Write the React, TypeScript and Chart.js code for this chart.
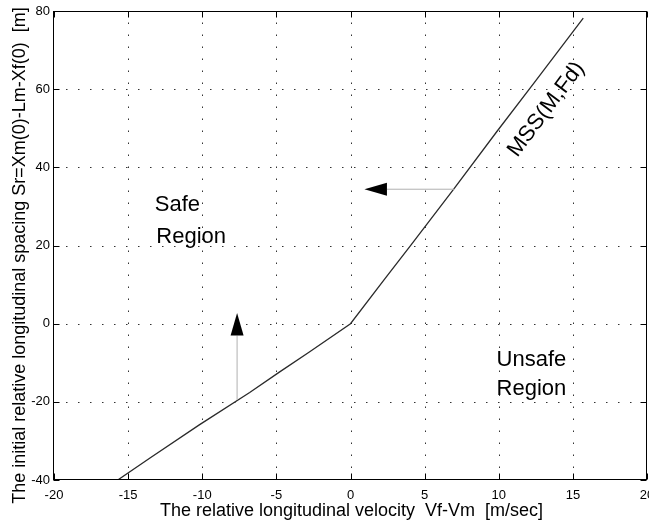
import { useEffect, useRef } from "react";
import { Chart, registerables } from "chart.js";

Chart.register(...registerables);

// Relative longitudinal velocity Vf-Vm [m/sec]
const velocity = [-15.7, -13.5, -10.2, -6.8, -4.8, -2.8, 0, 2.3, 4.1, 7.0, 9.9, 12.5, 15.7];
// Minimum safe spacing MSS(M,Fd) [m]
const spacing = [-40, -34.3, -25.9, -17.6, -12.4, -7.3, 0, 11.4, 20.2, 34.6, 49.3, 62.2, 78.2];

const xTicks = [-20, -15, -10, -5, 0, 5, 10, 15, 20];
const yTicks = [-40, -20, 0, 20, 40, 60, 80];
const xTickLabels = ["-20", "-15", "-10", "-5", "0", "5", "10", "15", "20"];
const yTickLabels = ["-40", "-20", "0", "20", "40", "60", "80"];

// Arrows: [start, tip]
const leftArrowX = [7.0, 0.94];
const leftArrowY = [34.4, 34.4];
const upArrowX = [-7.65, -7.65];
const upArrowY = [-19.5, 2.7];

const xTitle = "The relative longitudinal velocity  Vf-Vm  [m/sec]";
const yTitle = "The initial relative longitudinal spacing Sr=Xm(0)-Lm-Xf(0)  [m]";

const FONT = '"Liberation Sans", Arial, Helvetica, sans-serif';

function drawArrow(ctx: CanvasRenderingContext2D, x0: number, y0: number, x1: number, y1: number) {
  const ang = Math.atan2(y1 - y0, x1 - x0);
  const len = 22.5;
  const half = 6.5;
  const bx = x1 - len * Math.cos(ang);
  const by = y1 - len * Math.sin(ang);
  ctx.strokeStyle = "#b0b0b0";
  ctx.lineWidth = 1;
  ctx.setLineDash([]);
  ctx.beginPath();
  ctx.moveTo(x0, y0);
  ctx.lineTo(bx, by);
  ctx.stroke();
  ctx.fillStyle = "#000";
  ctx.beginPath();
  ctx.moveTo(x1, y1);
  ctx.lineTo(bx + half * Math.sin(ang), by - half * Math.cos(ang));
  ctx.lineTo(bx - half * Math.sin(ang), by + half * Math.cos(ang));
  ctx.closePath();
  ctx.fill();
}

const overlay = {
  id: "overlay",
  beforeDatasetsDraw(chart: any) {
    const { ctx, chartArea: a, scales } = chart;
    const x = scales.x;
    const y = scales.y;
    ctx.save();
    ctx.strokeStyle = "#333";
    ctx.lineWidth = 1;
    ctx.setLineDash([1.5, 10.5]);
    xTicks.forEach((v) => {
      if (v <= x.min || v >= x.max) return;
      const px = Math.round(x.getPixelForValue(v)) + 0.5;
      ctx.beginPath();
      ctx.moveTo(px, a.bottom);
      ctx.lineTo(px, a.top);
      ctx.stroke();
    });
    yTicks.forEach((v) => {
      if (v <= y.min || v >= y.max) return;
      const py = Math.round(y.getPixelForValue(v)) + 0.5;
      ctx.beginPath();
      ctx.moveTo(a.left, py);
      ctx.lineTo(a.right, py);
      ctx.stroke();
    });
    ctx.restore();
  },
  afterDatasetsDraw(chart: any) {
    const { ctx, chartArea: a, scales } = chart;
    const x = scales.x;
    const y = scales.y;
    ctx.save();
    ctx.setLineDash([]);
    // frame
    ctx.strokeStyle = "#000";
    ctx.lineWidth = 1;
    const L = Math.round(a.left) - 0.5;
    const R = Math.round(a.right) - 0.5;
    const T = Math.round(a.top) + 0.5;
    const B = Math.round(a.bottom) - 0.5;
    ctx.strokeRect(L, T, R - L, B - T);
    // inward ticks
    const tl = 6;
    ctx.beginPath();
    xTicks.forEach((v) => {
      const px = Math.round(x.getPixelForValue(v)) + 0.5;
      ctx.moveTo(px, B);
      ctx.lineTo(px, B - tl);
      ctx.moveTo(px, T);
      ctx.lineTo(px, T + tl);
    });
    yTicks.forEach((v) => {
      const py = Math.round(y.getPixelForValue(v)) + 0.5;
      ctx.moveTo(L, py);
      ctx.lineTo(L + tl, py);
      ctx.moveTo(R, py);
      ctx.lineTo(R - tl, py);
    });
    ctx.stroke();

    // tick labels
    ctx.fillStyle = "#000";
    ctx.font = `13px ${FONT}`;
    ctx.textBaseline = "middle";
    ctx.textAlign = "center";
    xTicks.forEach((v, i) => {
      ctx.fillText(xTickLabels[i], x.getPixelForValue(v), a.bottom + 15);
    });
    ctx.textAlign = "right";
    yTicks.forEach((v, i) => {
      ctx.fillText(yTickLabels[i], a.left - 4, y.getPixelForValue(v));
    });

    // axis titles
    ctx.font = `18px ${FONT}`;
    ctx.textAlign = "center";
    ctx.textBaseline = "alphabetic";
    ctx.fillText(xTitle, (a.left + a.right) / 2 + 1, a.bottom + 36);
    ctx.save();
    ctx.translate(25, 255.5);
    ctx.rotate(-Math.PI / 2);
    ctx.fillText(yTitle, 0, 0);
    ctx.restore();

    // arrows
    drawArrow(
      ctx,
      x.getPixelForValue(leftArrowX[0]),
      y.getPixelForValue(leftArrowY[0]),
      x.getPixelForValue(leftArrowX[1]),
      y.getPixelForValue(leftArrowY[1])
    );
    drawArrow(
      ctx,
      x.getPixelForValue(upArrowX[0]),
      y.getPixelForValue(upArrowY[0]),
      x.getPixelForValue(upArrowX[1]),
      y.getPixelForValue(upArrowY[1])
    );

    // region labels
    ctx.fillStyle = "#000";
    ctx.font = `22px ${FONT}`;
    ctx.textAlign = "left";
    ctx.textBaseline = "alphabetic";
    ctx.fillText("Safe", x.getPixelForValue(-13.2), y.getPixelForValue(28.9));
    ctx.fillText("Region", x.getPixelForValue(-13.1), y.getPixelForValue(20.6));
    ctx.fillText("Unsafe", x.getPixelForValue(9.85), y.getPixelForValue(-10.8));
    ctx.fillText("Region", x.getPixelForValue(9.85), y.getPixelForValue(-18.2));

    // curve label
    ctx.save();
    ctx.translate(x.getPixelForValue(13.2), y.getPixelForValue(54.8));
    ctx.rotate((-53 * Math.PI) / 180);
    ctx.textAlign = "center";
    ctx.textBaseline = "middle";
    ctx.fillText("MSS(M,Fd)", 0, 0);
    ctx.restore();

    ctx.restore();
  },
};

export default function App() {
  const ref = useRef<HTMLCanvasElement | null>(null);
  useEffect(() => {
    document.body.style.margin = "0";
    document.body.style.overflow = "hidden";
    const canvas = ref.current;
    if (!canvas) return;
    const chart = new Chart(canvas, {
      type: "scatter",
      data: {
        datasets: [
          {
            label: "MSS(M,Fd)",
            data: velocity.map((v, i) => ({ x: v, y: spacing[i] })),
            showLine: true,
            borderColor: "#2a2a2a",
            borderWidth: 1.3,
            pointRadius: 0,
            fill: false,
            tension: 0,
          },
        ],
      },
      options: {
        animation: false,
        responsive: false,
        devicePixelRatio: 1,
        layout: { padding: { left: 0, right: 2, top: 11, bottom: 0 } },
        plugins: { legend: { display: false }, tooltip: { enabled: false } },
        scales: {
          x: {
            type: "linear",
            min: -20,
            max: 20,
            grid: { display: false },
            border: { display: false },
            ticks: { display: false, stepSize: 5 },
            afterFit: (s: any) => {
              s.height = 43;
            },
          },
          y: {
            type: "linear",
            min: -40,
            max: 80,
            grid: { display: false },
            border: { display: false },
            ticks: { display: false, stepSize: 20 },
            afterFit: (s: any) => {
              s.width = 54;
            },
          },
        },
      },
      plugins: [overlay],
    } as any);
    return () => chart.destroy();
  }, []);
  return (
    <div style={{ width: 649, height: 523, background: "#fff" }}>
      <canvas ref={ref} width={649} height={523} style={{ display: "block" }} />
    </div>
  );
}
